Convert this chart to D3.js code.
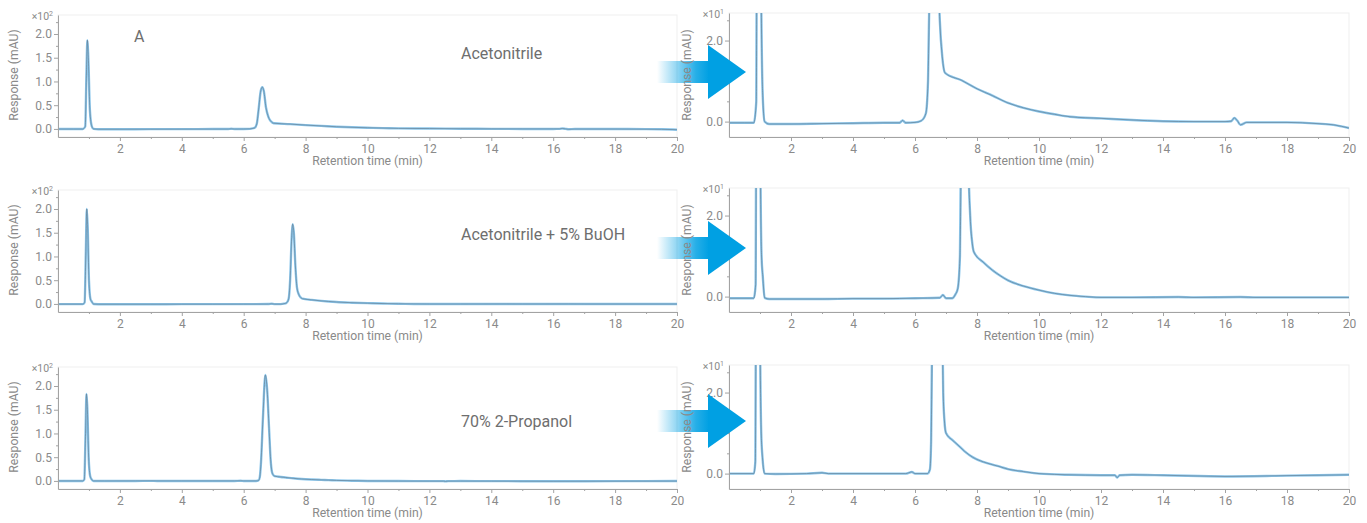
<!DOCTYPE html>
<html>
<head>
<meta charset="utf-8">
<script src="https://cdn.jsdelivr.net/npm/d3@7"></script>
<style>
  html, body { margin: 0; padding: 0; background: #fff; }
  svg { display: block; font-family: Roboto, "Noto Sans", sans-serif; }
</style>
</head>
<body>
<svg id="chart" width="1367" height="523"></svg>
<script>
// 刻度
const timeTicks = [2, 4, 6, 8, 10, 12, 14, 16, 18, 20];
const timeMinorTicks = [1, 3, 5, 7, 9, 11, 13, 15, 17, 19];
const fullTicks = [0, 50, 100, 150, 200];          // 显示为 ×10²
const fullMinorTicks = [25, 75, 125, 175, 225];
const zoomTicks = [0, 10, 20];                       // 显示为 ×10¹
const zoomMinorTicks = [5, 15, 25];

const runLabels = ['Acetonitrile', 'Acetonitrile + 5% BuOH', '70% 2-Propanol'];

// 色谱数据 (min, mAU)
const acnTime = [0, 0.5, 0.8, 0.88, 0.92, 0.95, 0.98, 1.03, 1.09, 1.15, 1.3, 2, 3, 4, 5, 5.5, 5.6, 5.7, 6.0, 6.2,
  6.35, 6.42, 6.48, 6.55, 6.6, 6.65, 6.72, 6.8, 6.88, 6.97, 7.5, 8.0, 8.5, 9.0, 9.5, 10, 10.5, 11, 12, 13, 14,
  15, 16, 16.2, 16.3, 16.4, 16.5, 16.7, 17, 18, 19, 19.5, 20];
const acnResp = [-0.3, -0.3, -0.3, 5, 120, 187, 150, 40, 6, 0, -0.6, -0.6, -0.5, -0.4, -0.3, -0.3, 0.3, -0.3, -0.2, 0.2,
  2, 10, 40, 80, 88, 80, 45, 25, 16, 12, 10.2, 8.1, 6.4, 4.6, 3.4, 2.5, 1.8, 1.2, 0.8, 0.4, 0.1,
  0, 0, 0.1, 0.9, 0.2, -0.8, -0.2, -0.2, -0.2, -0.5, -0.8, -1.6];

const buohTime = [0, 0.8, 0.86, 0.9, 0.93, 0.96, 1.0, 1.05, 1.09, 1.15, 1.3, 2, 3, 4, 5, 6, 6.8, 6.9, 7.0, 7.2,
  7.3, 7.38, 7.45, 7.5, 7.55, 7.58, 7.62, 7.67, 7.72, 7.78, 7.85, 7.9, 8.2, 8.5, 8.74, 9, 9.5, 10, 10.5, 11,
  11.5, 12, 13, 14.5, 15, 16.5, 17, 20];
const buohResp = [-0.4, -0.4, 3, 110, 200, 160, 50, 10, 5, -0.3, -0.6, -0.6, -0.6, -0.5, -0.5, -0.4, -0.3, 0.4, -0.4, -0.4,
  0.5, 2, 10, 50, 140, 168, 150, 80, 35, 20, 13, 11, 8.5, 6.5, 5.2, 4.0, 2.6, 1.6, 0.8, 0.3,
  0, -0.2, -0.2, -0.1, -0.2, -0.1, -0.2, -0.2];

const iproTime = [0, 0.8, 0.85, 0.89, 0.92, 0.95, 0.99, 1.04, 1.08, 1.15, 1.5, 2.5, 3.0, 3.2, 4, 5, 5.7, 5.9, 6.0, 6.4,
  6.48, 6.52, 6.56, 6.62, 6.7, 6.76, 6.82, 6.87, 6.91, 6.95, 7.0, 7.2, 7.35, 7.6, 7.87, 8.2, 8.5, 8.74, 9.0, 9.5,
  10, 11, 12, 12.45, 12.52, 12.6, 13, 14, 16, 18, 20];
const iproResp = [0, 0, 3, 100, 183, 150, 50, 10, 4, 0, -0.1, 0, 0.2, 0, 0, 0, 0, 0.4, 0, 0,
  1, 8, 40, 130, 223, 190, 110, 45, 20, 13, 10, 8.3, 7.3, 5.5, 4.0, 2.9, 2.2, 1.7, 1.1, 0.5,
  0, -0.3, -0.4, -0.4, -1.0, -0.4, -0.3, -0.4, -0.7, -0.5, -0.3];

const runs = [
  { label: runLabels[0], time: acnTime, resp: acnResp },
  { label: runLabels[1], time: buohTime, resp: buohResp },
  { label: runLabels[2], time: iproTime, resp: iproResp }
];

// 布局
const rowOffset = [0, 175, 352];
const labelBaseline = [59, 240, 427];
const arrowCenter = [72, 248, 421];
const textGray = '#8a8a8a';
const axisGray = '#a3a3a3';

const svg = d3.select('#chart');

const defs = svg.append('defs');
const grad = defs.append('linearGradient').attr('id', 'arrowFade')
  .attr('x1', '0%').attr('x2', '100%').attr('y1', '0%').attr('y2', '0%');
grad.append('stop').attr('offset', '0%').attr('stop-color', '#00a0e3').attr('stop-opacity', 0);
grad.append('stop').attr('offset', '75%').attr('stop-color', '#00a0e3').attr('stop-opacity', 0.85);
grad.append('stop').attr('offset', '100%').attr('stop-color', '#00a0e3').attr('stop-opacity', 1);

/**
 * 画一个色谱面板
 */
function drawPanel(run, idx, side) {
  const off = rowOffset[idx];
  const isFull = side === 'full';
  const left = isFull ? 58 : 729;
  const right = isFull ? 677 : 1349;
  const top = (isFull ? 15 : 13) + off;
  const bottom = 137 + off;

  const x = d3.scaleLinear().domain([0, 20]).range([left, right]);
  const y = isFull
    ? d3.scaleLinear().domain([-17, 240]).range([bottom, top])
    : d3.scaleLinear().domain([-3.8, 26.8]).range([bottom, top]);

  const g = svg.append('g');

  // 绘图区细边框
  g.append('rect')
    .attr('x', left).attr('y', top)
    .attr('width', right - left).attr('height', bottom - top)
    .attr('fill', 'none').attr('stroke', '#efefef');

  const clipId = `clip-${side}-${idx}`;
  defs.append('clipPath').attr('id', clipId)
    .append('rect')
    .attr('x', left).attr('y', top)
    .attr('width', right - left).attr('height', bottom - top);

  const points = run.time.map((t, i) => [t, run.resp[i]]);
  const line = d3.line()
    .x(d => x(d[0]))
    .y(d => y(d[1]))
    .curve(d3.curveMonotoneX);

  const traces = g.append('g').attr('clip-path', `url(#${clipId})`);
  traces.append('path')
    .datum(points)
    .attr('d', line)
    .attr('fill', 'none')
    .attr('stroke', '#8cc7ec')
    .attr('stroke-width', 2.4)
    .attr('stroke-linejoin', 'round');
  traces.append('path')
    .datum(points)
    .attr('d', line)
    .attr('fill', 'none')
    .attr('stroke', '#60788a')
    .attr('stroke-width', 0.9)
    .attr('stroke-opacity', 0.7)
    .attr('stroke-linejoin', 'round');

  // X 轴
  g.append('g').attr('transform', `translate(0,${bottom})`)
    .call(d3.axisBottom(x).tickValues(timeTicks).tickSize(4).tickSizeOuter(0).tickPadding(3).tickFormat(d3.format('d')));
  g.append('g').attr('transform', `translate(0,${bottom})`)
    .call(d3.axisBottom(x).tickValues(timeMinorTicks).tickSize(2).tickSizeOuter(0).tickFormat(''))
    .call(a => a.select('.domain').remove());

  // Y 轴
  g.append('g').attr('transform', `translate(${left},0)`)
    .call(d3.axisLeft(y)
      .tickValues(isFull ? fullTicks : zoomTicks)
      .tickSize(4).tickSizeOuter(0).tickPadding(2)
      .tickFormat(d => (isFull ? d / 100 : d / 10).toFixed(1)));
  g.append('g').attr('transform', `translate(${left},0)`)
    .call(d3.axisLeft(y).tickValues(isFull ? fullMinorTicks : zoomMinorTicks).tickSize(2).tickSizeOuter(0).tickFormat(''))
    .call(a => a.select('.domain').remove());

  g.selectAll('.domain, .tick line').attr('stroke', axisGray);
  g.selectAll('.tick text')
    .attr('fill', textGray)
    .attr('font-size', 12)
    .attr('font-family', 'Roboto, sans-serif');

  // 倍数标记
  const mult = g.append('text')
    .attr('x', left - 5).attr('y', top + 5)
    .attr('text-anchor', 'end')
    .attr('fill', textGray)
    .attr('font-size', 10.5);
  mult.append('tspan').text('×10');
  mult.append('tspan').attr('font-size', 7).attr('dy', -4).text(isFull ? '2' : '1');

  // 轴标题
  g.append('text')
    .attr('x', (left + right) / 2).attr('y', bottom + 28)
    .attr('text-anchor', 'middle')
    .attr('fill', textGray)
    .attr('font-size', 12.2)
    .text('Retention time (min)');

  return { g, midY: off + 75 };
}

function drawYTitle(xPos, midY) {
  svg.append('text')
    .attr('transform', `translate(${xPos},${midY}) rotate(-90)`)
    .attr('text-anchor', 'middle')
    .attr('dominant-baseline', 'central')
    .attr('fill', textGray)
    .attr('font-size', 12.2)
    .text('Response (mAU)');
}

function drawArrow(cy) {
  svg.append('rect')
    .attr('x', 657).attr('y', cy - 11)
    .attr('width', 52).attr('height', 22)
    .attr('fill', 'url(#arrowFade)');
  svg.append('path')
    .attr('d', `M708,${cy - 27}L746,${cy}L708,${cy + 27}Z`)
    .attr('fill', '#00a0e3');
}

runs.forEach((run, i) => {
  const full = drawPanel(run, i, 'full');
  drawYTitle(14, full.midY);
  const zoomed = drawPanel(run, i, 'zoom');
  drawArrow(arrowCenter[i]);
  drawYTitle(687, zoomed.midY);

  svg.append('text')
    .attr('x', 461).attr('y', labelBaseline[i])
    .attr('fill', '#6e6e6e')
    .attr('font-size', 16)
    .text(run.label);
});

svg.append('text')
  .attr('x', 134).attr('y', 42)
  .attr('fill', '#6e6e6e')
  .attr('font-size', 16)
  .text('A');
</script>
</body>
</html>
